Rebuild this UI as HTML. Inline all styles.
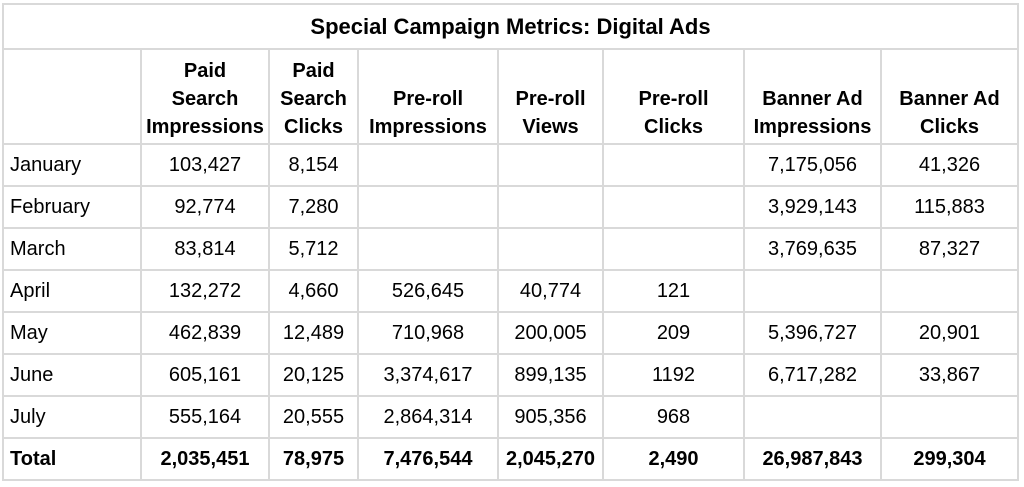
<!DOCTYPE html>
<html><head><meta charset="utf-8"><style>
html,body{margin:0;padding:0;background:#fff;width:1024px;height:487px;overflow:hidden}
table{position:absolute;left:2px;top:3px;border-collapse:collapse;font-family:"Liberation Sans",Arial,sans-serif;font-size:20px;color:#000;table-layout:fixed}
td{border:2px solid #d9d9d9;padding:0;text-align:center;vertical-align:middle;overflow:hidden;white-space:nowrap}
td.l{text-align:left;padding-left:6px}
.t td{height:43px;font-weight:bold;font-size:22px}
.h td{font-weight:bold;line-height:28px;height:91px;vertical-align:bottom;padding-bottom:2px}
.r td{height:40px}
.b td{font-weight:bold}
</style></head><body>
<table>
<colgroup><col style="width:138px"><col style="width:128px"><col style="width:89px"><col style="width:140px"><col style="width:105px"><col style="width:141px"><col style="width:137px"><col style="width:137px"></colgroup>
<tr class="t"><td colspan="8">Special Campaign Metrics: Digital Ads</td></tr>
<tr class="h"><td></td><td>Paid<br>Search<br>Impressions</td><td>Paid<br>Search<br>Clicks</td><td>Pre-roll<br>Impressions</td><td>Pre-roll<br>Views</td><td>Pre-roll<br>Clicks</td><td>Banner Ad<br>Impressions</td><td>Banner Ad<br>Clicks</td></tr>
<tr class="r"><td class="l">January</td><td>103,427</td><td>8,154</td><td></td><td></td><td></td><td>7,175,056</td><td>41,326</td></tr>
<tr class="r"><td class="l">February</td><td>92,774</td><td>7,280</td><td></td><td></td><td></td><td>3,929,143</td><td>115,883</td></tr>
<tr class="r"><td class="l">March</td><td>83,814</td><td>5,712</td><td></td><td></td><td></td><td>3,769,635</td><td>87,327</td></tr>
<tr class="r"><td class="l">April</td><td>132,272</td><td>4,660</td><td>526,645</td><td>40,774</td><td>121</td><td></td><td></td></tr>
<tr class="r"><td class="l">May</td><td>462,839</td><td>12,489</td><td>710,968</td><td>200,005</td><td>209</td><td>5,396,727</td><td>20,901</td></tr>
<tr class="r"><td class="l">June</td><td>605,161</td><td>20,125</td><td>3,374,617</td><td>899,135</td><td>1192</td><td>6,717,282</td><td>33,867</td></tr>
<tr class="r"><td class="l">July</td><td>555,164</td><td>20,555</td><td>2,864,314</td><td>905,356</td><td>968</td><td></td><td></td></tr>
<tr class="r b"><td class="l">Total</td><td>2,035,451</td><td>78,975</td><td>7,476,544</td><td>2,045,270</td><td>2,490</td><td>26,987,843</td><td>299,304</td></tr>
</table>
</body></html>
